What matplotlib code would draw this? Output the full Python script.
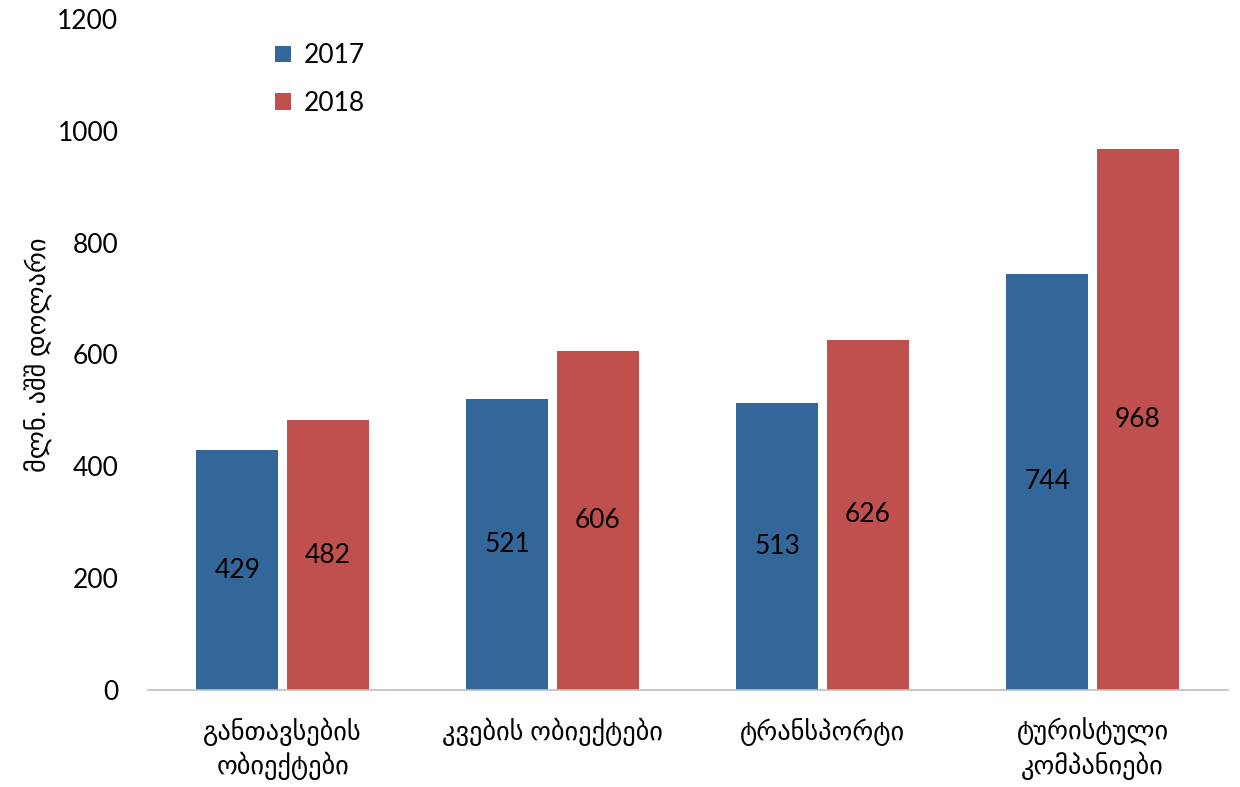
import matplotlib
matplotlib.use("Agg")
import matplotlib.pyplot as plt
import numpy as np

plt.rcParams['font.family'] = ['Lato', 'DejaVu Sans']

# Données
categories = ["განთავსების\nობიექტები", "კვების ობიექტები", "ტრანსპორტი", "ტურისტული\nკომპანიები"]
vals_2017 = [429, 521, 513, 744]
vals_2018 = [482, 606, 626, 968]
series = ["2017", "2018"]
colors = ["#336699", "#C0504D"]

fs = 19

fig = plt.figure(figsize=(12.4, 7.87), dpi=100)
ax = fig.add_axes([0.119, 0.1233, 0.871, 0.8527])

x = np.arange(len(categories))
w = 0.304
off = 0.168
b1 = ax.bar(x - off, vals_2017, w, color=colors[0], label=series[0])
b2 = ax.bar(x + off, vals_2018, w, color=colors[1], label=series[1])

# Étiquettes au milieu des barres
for bars in (b1, b2):
    for r in bars:
        h = r.get_height()
        ax.text(r.get_x() + r.get_width() / 2, h / 2, str(int(h)),
                ha="center", va="center", fontsize=fs, color="black")

ax.set_xlim(-0.5, len(categories) - 0.5)
ax.set_ylim(0, 1200)
ax.set_yticks(range(0, 1201, 200))
ax.set_xticks(x)
ax.set_xticklabels(categories, fontsize=fs, linespacing=1.25)
ax.tick_params(axis="y", labelsize=fs, length=0, pad=21)
ax.tick_params(axis="x", length=0, pad=20)

for s in ["top", "right", "left"]:
    ax.spines[s].set_visible(False)
ax.spines["bottom"].set_color("#BFBFBF")
ax.spines["bottom"].set_linewidth(1.2)

ax.set_ylabel("მლნ. აშშ დოლარი", fontsize=fs, labelpad=3)

ax.legend(loc="upper left", bbox_to_anchor=(0.096, 0.999), frameon=False,
          fontsize=fs, handlelength=0.6, handleheight=0.6,
          handletextpad=0.5, labelspacing=0.85)

plt.savefig("out.png", dpi=100)
